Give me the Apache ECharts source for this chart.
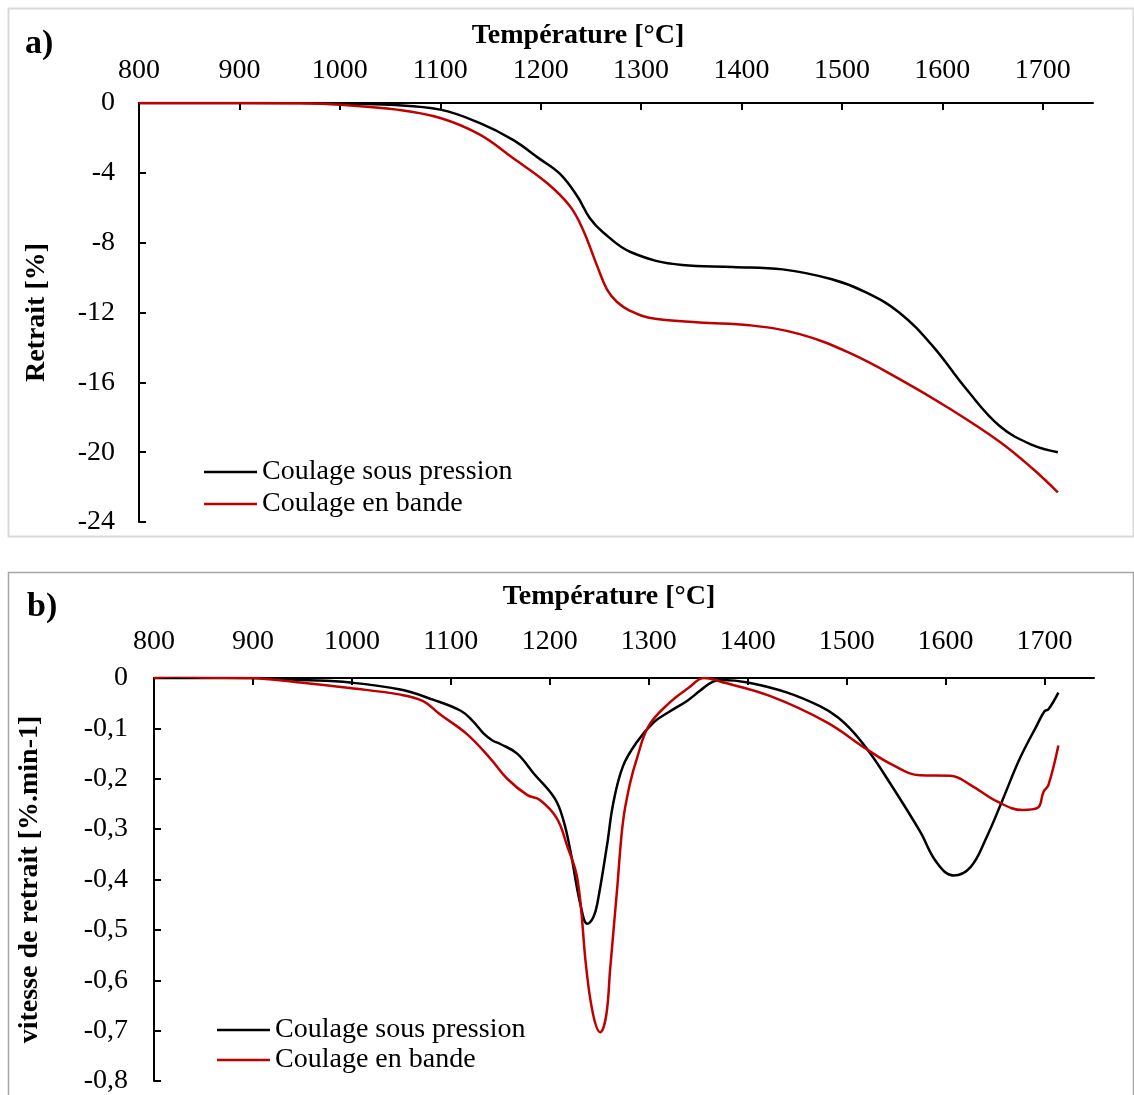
<!DOCTYPE html>
<html>
<head>
<meta charset="utf-8">
<script src="https://cdn.jsdelivr.net/npm/echarts@6/dist/echarts.min.js"></script>
<style>
html,body{margin:0;padding:0;background:#fff;}
#c{width:1134px;height:1095px;}
</style>
</head>
<body>
<div id="c"></div>
<script>
// ---- Data ----
var xTicks = [800, 900, 1000, 1100, 1200, 1300, 1400, 1500, 1600, 1700];
var seriesNames = ['Coulage sous pression', 'Coulage en bande'];

// a) Retrait [%]
var tempA_P = [800, 900, 960, 1000, 1050, 1100, 1139, 1172, 1199, 1219, 1236, 1249, 1262, 1290, 1341, 1391, 1441, 1490, 1524, 1557, 1590, 1624, 1657, 1690, 1715];
var valA_P  = [0, 0, 0, -0.03, -0.1, -0.38, -1.14, -2.1, -3.2, -4.05, -5.3, -6.6, -7.4, -8.55, -9.28, -9.39, -9.53, -10.1, -10.85, -12.0, -13.9, -16.4, -18.5, -19.6, -20.0];
var tempA_B = [800, 900, 960, 1000, 1057, 1100, 1139, 1172, 1206, 1229, 1242, 1256, 1266, 1276, 1289, 1308, 1358, 1408, 1458, 1507, 1557, 1607, 1657, 1690, 1715];
var valA_B  = [0, 0, -0.02, -0.1, -0.38, -0.86, -1.8, -3.14, -4.57, -5.9, -7.24, -9.3, -10.67, -11.4, -11.9, -12.3, -12.57, -12.73, -13.24, -14.3, -15.8, -17.5, -19.4, -20.95, -22.3];

// b) vitesse de retrait [%.min-1]
var tempB_P = [800, 850, 897, 950, 998, 1049, 1082, 1110, 1122, 1133, 1142, 1150, 1167, 1184, 1205, 1214, 1221, 1231, 1238, 1244, 1248, 1258, 1264, 1274, 1288, 1305, 1320, 1339, 1352, 1365, 1375, 1400, 1440, 1473, 1491, 1507, 1524, 1541, 1574, 1591, 1608, 1625, 1641, 1658, 1675, 1692, 1700, 1704, 1714];
var valB_P  = [0, 0, 0, -0.004, -0.009, -0.023, -0.043, -0.065, -0.085, -0.11, -0.124, -0.131, -0.15, -0.19, -0.239, -0.284, -0.345, -0.45, -0.488, -0.475, -0.448, -0.33, -0.25, -0.175, -0.127, -0.088, -0.068, -0.045, -0.025, -0.007, -0.004, -0.009, -0.029, -0.056, -0.078, -0.108, -0.15, -0.2, -0.304, -0.366, -0.392, -0.376, -0.318, -0.24, -0.16, -0.095, -0.066, -0.062, -0.029];
var tempB_B = [800, 820, 850, 897, 948, 998, 1049, 1072, 1089, 1116, 1140, 1157, 1177, 1190, 1207, 1217, 1228, 1237, 1244, 1251, 1257, 1261, 1268, 1274, 1281, 1288, 1300, 1321, 1340, 1356, 1372, 1423, 1480, 1520, 1547, 1574, 1605, 1625, 1652, 1678, 1693, 1699, 1704, 1714];
var valB_B  = [0, 0.003, 0.001, 0, -0.009, -0.02, -0.033, -0.046, -0.072, -0.111, -0.16, -0.2, -0.232, -0.242, -0.278, -0.33, -0.4, -0.578, -0.67, -0.703, -0.67, -0.578, -0.42, -0.285, -0.21, -0.16, -0.095, -0.049, -0.02, 0, -0.007, -0.036, -0.088, -0.141, -0.173, -0.193, -0.194, -0.212, -0.245, -0.262, -0.258, -0.226, -0.212, -0.134];

function zip(a, b) { return a.map(function (v, i) { return [v, b[i]]; }); }

var FONT = 'Liberation Serif';
var chart = echarts.init(document.getElementById('c'), null, {renderer: 'canvas'});

function xAxis(grid, margin) {
  return {
    type: 'value', gridIndex: grid, position: 'top', min: 800, max: 1750,
    axisLine: {show: true, onZero: false, lineStyle: {color: '#000', width: 2}},
    axisTick: {show: true, inside: true, length: 7, customValues: xTicks, lineStyle: {color: '#000', width: 2}},
    axisLabel: {customValues: xTicks, margin: margin, color: '#000', fontFamily: FONT, fontSize: 28,
      formatter: function (v) { return String(v); }},
    splitLine: {show: false}
  };
}

chart.setOption({
  animation: false,
  backgroundColor: '#fff',
  grid: [
    {left: 139, top: 103, width: 954, height: 419},
    {left: 154, top: 678, width: 940, height: 408}
  ],
  xAxis: [xAxis(0, 18), xAxis(1, 22)],
  yAxis: [
    {
      type: 'value', gridIndex: 0, min: -24, max: 0, interval: 4,
      name: 'Retrait [%]', nameLocation: 'middle', nameGap: 88, nameRotate: 90,
      nameTextStyle: {color: '#000', fontFamily: FONT, fontSize: 28, fontWeight: 'bold'},
      axisLine: {show: true, onZero: false, lineStyle: {color: '#000', width: 2}},
      axisTick: {show: true, inside: true, length: 7, lineStyle: {color: '#000', width: 2}},
      axisLabel: {margin: 24, color: '#000', fontFamily: FONT, fontSize: 28, padding: [5, 0, 0, 0]},
      splitLine: {show: false}
    },
    {
      type: 'value', gridIndex: 1, min: -0.8, max: 0, interval: 0.1,
      name: 'vitesse de retrait [%.min-1]', nameLocation: 'middle', nameGap: 110, nameRotate: 90,
      nameTextStyle: {color: '#000', fontFamily: FONT, fontSize: 28, fontWeight: 'bold'},
      axisLine: {show: true, onZero: false, lineStyle: {color: '#000', width: 2}},
      axisTick: {show: true, inside: true, length: 7, lineStyle: {color: '#000', width: 2}},
      axisLabel: {margin: 26, color: '#000', fontFamily: FONT, fontSize: 28, padding: [5, 0, 0, 0],
        formatter: function (v) { var r = Math.round(v * 10) / 10; return r === 0 ? '0' : r.toFixed(1).replace('.', ','); }},
      splitLine: {show: false}
    }
  ],
  legend: [
    {
      orient: 'vertical', left: 204, top: 458, padding: 0, itemWidth: 53, itemHeight: 2.5, itemGap: 4,
      icon: 'rect', data: seriesNames, selectedMode: false,
      textStyle: {color: '#000', fontFamily: FONT, fontSize: 28, lineHeight: 28, padding: 0}
    },
    {
      orient: 'vertical', left: 217, top: 1016, padding: 0, itemWidth: 53, itemHeight: 2.5, itemGap: 2,
      icon: 'rect', data: seriesNames, selectedMode: false,
      textStyle: {color: '#000', fontFamily: FONT, fontSize: 28, lineHeight: 28, padding: 0}
    }
  ],
  graphic: [
    {type: 'rect', shape: {x: 8.5, y: 8.5, width: 1125, height: 528}, style: {fill: 'none', stroke: '#d9d9d9', lineWidth: 2}, z: -1},
    {type: 'rect', shape: {x: 8.5, y: 572.5, width: 1125, height: 600}, style: {fill: 'none', stroke: '#a6a6a6', lineWidth: 1.5}, z: -1},
    {type: 'text', left: 25, top: 27, style: {text: 'a)', font: 'bold 34px "Liberation Serif"', fill: '#000'}},
    {type: 'text', left: 27, top: 590, style: {text: 'b)', font: 'bold 34px "Liberation Serif"', fill: '#000'}},
    {type: 'text', x: 578, y: 36, style: {text: 'Température [°C]', font: 'bold 28px "Liberation Serif"', fill: '#000', align: 'center', verticalAlign: 'middle'}},
    {type: 'text', x: 609, y: 597, style: {text: 'Température [°C]', font: 'bold 28px "Liberation Serif"', fill: '#000', align: 'center', verticalAlign: 'middle'}}
  ],
  series: [
    {name: seriesNames[0], type: 'line', xAxisIndex: 0, yAxisIndex: 0, data: zip(tempA_P, valA_P), smooth: 0.4, showSymbol: false, lineStyle: {color: '#000', width: 2.5}, itemStyle: {color: '#000'}},
    {name: seriesNames[1], type: 'line', xAxisIndex: 0, yAxisIndex: 0, data: zip(tempA_B, valA_B), smooth: 0.4, showSymbol: false, lineStyle: {color: '#c00000', width: 2.5}, itemStyle: {color: '#c00000'}},
    {name: seriesNames[0], type: 'line', xAxisIndex: 1, yAxisIndex: 1, data: zip(tempB_P, valB_P), smooth: 0.4, showSymbol: false, lineStyle: {color: '#000', width: 2.5}, itemStyle: {color: '#000'}},
    {name: seriesNames[1], type: 'line', xAxisIndex: 1, yAxisIndex: 1, data: zip(tempB_B, valB_B), smooth: 0.4, showSymbol: false, lineStyle: {color: '#c00000', width: 2.5}, itemStyle: {color: '#c00000'}}
  ]
});
</script>
</body>
</html>
